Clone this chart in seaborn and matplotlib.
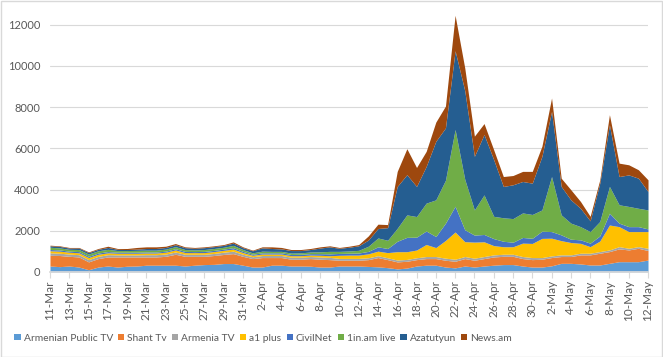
import numpy as np
import pandas as pd
import seaborn as sns
import matplotlib.pyplot as plt
from matplotlib.patches import Rectangle

# daily views, 11-Mar .. 12-May (63 days)
dates = pd.date_range("2018-03-11", "2018-05-12", freq="D")

names = ['Armenian Public TV', 'Shant Tv', 'Armenia TV', 'a1 plus',
         'CivilNet', '1in.am live', 'Azatutyun', 'News.am']
colors = ['#5B9BD5', '#ED7D31', '#A5A5A5', '#FFC000',
          '#4472C4', '#70AD47', '#255E91', '#9E480E']

public_tv = [290, 260, 290, 240, 110, 240, 290, 240, 280, 290, 330, 330, 330, 330, 290,
             330, 360, 370, 410, 410, 330, 240, 240, 330, 330, 290, 290, 280, 240, 240,
             290, 290, 290, 270, 250, 210, 150, 190, 290, 330, 330, 240, 200, 290, 240,
             290, 330, 360, 360, 290, 240,
             240, 300, 420, 420, 390, 340, 340, 420, 500, 500, 500, 580]
shant_tv = [520, 540, 470, 490, 380, 410, 440, 490, 450, 440, 400, 400, 430, 530, 470,
            430, 400, 430, 440, 480, 430, 410, 460, 370, 370, 330, 330, 370, 380, 360,
            280, 280, 280, 330, 450, 390, 340, 330, 310, 320, 320, 330, 320, 360, 330,
            360, 400, 400, 400, 360, 360,
            380, 400, 330, 330, 440, 490, 570, 570, 620, 570, 650, 460]
armenia_tv = [120, 110, 110, 110, 110, 110, 110, 100, 100, 100, 110, 110, 110, 110, 100,
              100, 100, 100, 110, 120, 100, 90, 100, 100, 100, 100, 100, 100, 110, 110,
              90, 90, 90, 90, 90, 90, 90, 90, 90, 100, 100, 100, 100, 100, 100,
              100, 100, 100, 100, 100, 100,
              80, 80, 80, 80, 80, 80, 80, 80, 110, 80, 80, 110]
a1_plus = [100, 100, 90, 90, 100, 100, 90, 80, 80, 80, 80, 80, 90, 100, 80,
           80, 80, 90, 90, 100, 80, 70, 70, 70, 70, 70, 70, 70, 80, 80,
           150, 160, 160, 190, 220, 250, 405, 375, 375, 585, 435, 860, 1320, 720, 780,
           715, 450, 365, 365, 650, 685,
           930, 860, 690, 600, 480, 320, 510, 1210, 970, 810, 730, 810]
civilnet = [60, 60, 50, 60, 60, 60, 60, 50, 50, 50, 50, 50, 50, 60, 60,
            50, 60, 60, 60, 70, 60, 50, 60, 60, 60, 60, 70, 70, 80, 90,
            90, 90, 100, 120, 210, 200, 505, 695, 625, 655, 535, 840, 1250, 580, 340,
            355, 340, 265, 220, 275, 250,
            350, 320, 280, 160, 170, 170, 250, 570, 170, 240, 240, 130]
in_am = [110, 100, 90, 100, 110, 110, 110, 80, 80, 90, 90, 90, 100, 100, 90,
         80, 90, 90, 90, 110, 90, 70, 80, 70, 70, 70, 70, 80, 90, 120,
         100, 110, 130, 250, 430, 400, 630, 1090, 1000, 1350, 1780, 2080, 3720, 2450, 1220,
         1920, 1080, 1140, 1145, 1190, 1155,
         1030, 2670, 970, 780, 640, 560, 700, 1300, 890, 980, 890, 920]
azatutyun = [70, 70, 60, 70, 70, 70, 90, 60, 50, 60, 80, 80, 80, 90, 90,
             80, 90, 90, 90, 110, 90, 100, 160, 140, 120, 120, 110, 120, 180, 220,
             150, 180, 220, 300, 460, 610, 2030, 1950, 1460, 1780, 2840, 2540, 3820, 4300, 2600,
             2930, 2750, 1520, 1640, 1525, 1520,
             2600, 3160, 1380, 1130, 890, 520, 1860, 2990, 1370, 1530, 1460, 890]
news_am = [30, 30, 30, 30, 35, 40, 60, 40, 50, 80, 80, 80, 60, 60, 40,
           40, 40, 40, 40, 60, 40, 30, 50, 80, 70, 50, 50, 50, 60, 50,
           40, 50, 60, 200, 210, 150, 730, 1260, 920, 730, 930, 1060, 1720, 1100, 980,
           530, 480, 480, 450, 490, 570,
           490, 650, 400, 490, 330, 220, 160, 490, 650, 490, 410, 570]

df = pd.DataFrame({
    'Armenian Public TV': public_tv, 'Shant Tv': shant_tv, 'Armenia TV': armenia_tv,
    'a1 plus': a1_plus, 'CivilNet': civilnet, '1in.am live': in_am,
    'Azatutyun': azatutyun, 'News.am': news_am,
}, index=dates)

sns.set_theme(style="white")
plt.rcParams['font.family'] = ['Lato', 'DejaVu Sans']

fig = plt.figure(figsize=(6.63, 3.57), dpi=100)
ax = fig.add_axes([0.0754, 0.2381, 0.902, 0.7392])

x = np.arange(len(df))
polys = ax.stackplot(x, *[df[n].values for n in names], colors=colors,
                     labels=names, linewidth=0)

ax.set_xlim(0, len(df) - 1)
ax.set_ylim(0, 12800)
ax.set_yticks(range(0, 12001, 2000))
ax.grid(axis='y', color='#D9D9D9', linewidth=0.8)
ax.set_axisbelow(True)
sns.despine(ax=ax, left=True, top=True, right=True)
ax.spines['bottom'].set_color('#D9D9D9')

ticks = x[::2]
ax.set_xticks(ticks)
ax.set_xticklabels([f"{d.day}-{d.strftime('%b')}" for d in df.index[::2]], rotation=90)
ax.tick_params(axis='x', length=4, width=0.8, color='#D9D9D9', labelsize=8.5,
               labelcolor='#595959', pad=2, bottom=True)
ax.tick_params(axis='y', length=0, labelsize=8, labelcolor='#595959', pad=7)

fig.legend(handles=polys, labels=names, ncol=8, loc='center',
           bbox_to_anchor=(0.397, 0.053), frameon=False, fontsize=7.4,
           handlelength=0.6, handleheight=0.6, handletextpad=0.3,
           columnspacing=0.5, labelcolor='#595959')

fig.patches.append(Rectangle((0.001, 0.001), 0.997, 0.996, transform=fig.transFigure,
                             fill=False, edgecolor='#D9D9D9', linewidth=1))

fig.savefig("out.png", dpi=100)
